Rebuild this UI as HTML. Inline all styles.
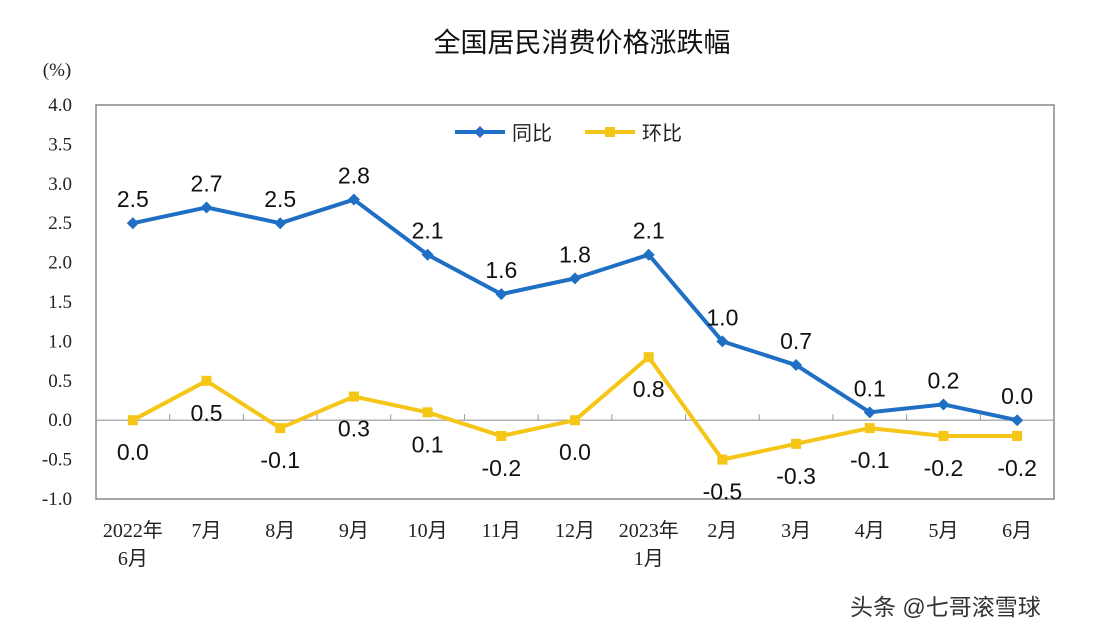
<!DOCTYPE html>
<html><head><meta charset="utf-8"><style>
body{margin:0;background:#fff;width:1098px;height:632px;overflow:hidden}
.s{font-family:"Liberation Sans","Noto Sans CJK SC",sans-serif}
.sf{font-family:"Liberation Serif","Noto Sans CJK SC",serif}
</style></head><body>
<svg id="c" width="1098" height="632">
<text class="s" x="582" y="52" font-size="27" text-anchor="middle" fill="#111">全国居民消费价格涨跌幅</text>
<text class="sf" x="57" y="76" font-size="19" text-anchor="middle" fill="#222">(%)</text>
<rect x="96" y="105" width="958" height="394" fill="none" stroke="#888" stroke-width="1.5"/>
<g>
<line x1="455" y1="132" x2="505" y2="132" stroke="#1f6fc4" stroke-width="4"/>
<path d="M480 126 L486 132 L480 138 L474 132Z" fill="#1f6fc4"/>
<text class="s" x="512" y="140" font-size="20" fill="#222">同比</text>
<line x1="585" y1="132" x2="635" y2="132" stroke="#f5c518" stroke-width="4"/>
<rect x="605" y="127" width="10" height="10" fill="#f5c518"/>
<text class="s" x="642" y="140" font-size="20" fill="#222">环比</text>
</g>
<g id="g"></g>
</svg>
<script>
const categories=[["2022年","6月"],["7月"],["8月"],["9月"],["10月"],["11月"],["12月"],["2023年","1月"],["2月"],["3月"],["4月"],["5月"],["6月"]];
const yoy=[2.5,2.7,2.5,2.8,2.1,1.6,1.8,2.1,1.0,0.7,0.1,0.2,0.0];
const mom=[0.0,0.5,-0.1,0.3,0.1,-0.2,0.0,0.8,-0.5,-0.3,-0.1,-0.2,-0.2];
const yTicks=[4.0,3.5,3.0,2.5,2.0,1.5,1.0,0.5,0.0,-0.5,-1.0];
const L=96,R=1054,T=105,B=499,ymin=-1,ymax=4;
const bw=(R-L)/categories.length;
const X=i=>L+bw*(i+0.5);
const Y=v=>B-(v-ymin)/(ymax-ymin)*(B-T);
const NS="http://www.w3.org/2000/svg",g=document.getElementById('g');
function mk(t,a,txt){const e=document.createElementNS(NS,t);for(const k in a)e.setAttribute(k,a[k]);if(txt!=null)e.textContent=txt;g.appendChild(e);return e;}
yTicks.forEach(v=>{
 const t=mk('text',{x:72,y:Y(v)+6,'font-size':19,'text-anchor':'end',fill:'#222',class:'sf'},v.toFixed(1));
 
 
});
const z=mk('line',{x1:L,y1:Y(0),x2:R,y2:Y(0),stroke:'#999','stroke-width':1.2});


categories.forEach((c,i)=>{
 if(i>0){mk('line',{x1:L+bw*i,y1:Y(0)-6,x2:L+bw*i,y2:Y(0),stroke:'#999'});}
 c.forEach((s,j)=>{
  const t=mk('text',{x:X(i),y:537+j*28,'font-size':20,'text-anchor':'middle',fill:'#222',class:'sf'},s);
  
  
 });
});
function series(d,col,name,diamond,lblAbove){
 const p=mk('polyline',{points:d.map((v,i)=>X(i)+','+Y(v)).join(' '),fill:'none',stroke:col,'stroke-width':4,'stroke-linejoin':'round'});
 
 
 d.forEach((v,i)=>{
  const x=X(i),y=Y(v);
  const m=diamond?mk('path',{d:`M${x} ${y-6}L${x+6} ${y}L${x} ${y+6}L${x-6} ${y}Z`,fill:col}):mk('rect',{x:x-5,y:y-5,width:10,height:10,fill:col});
  
  
  const t=mk('text',{x:x,y:lblAbove?y-16:y+40,'font-size':23,'text-anchor':'middle',fill:'#111',class:'s'},v.toFixed(1));
  
  
 });
}
series(mom,'#f5c518','mom',false,false);
series(yoy,'#1f6fc4','yoy',true,true);
</script>
<div style="position:absolute;left:850px;top:588px;font:23px 'Liberation Sans','Noto Sans CJK SC',sans-serif;color:#333">头条 @七哥滚雪球</div>
</body></html>
